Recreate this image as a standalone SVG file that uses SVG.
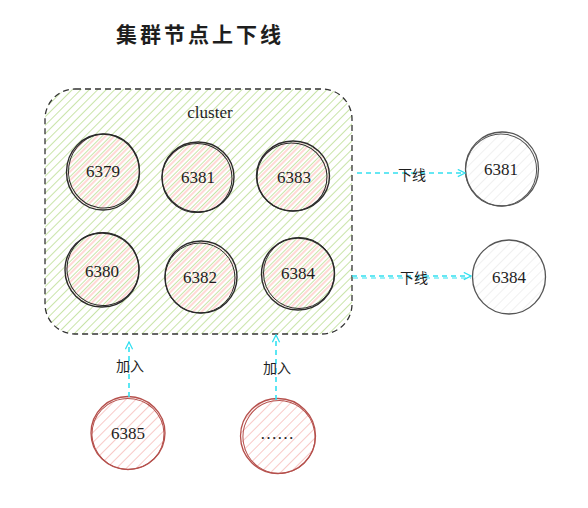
<svg xmlns="http://www.w3.org/2000/svg" width="588" height="508" viewBox="0 0 588 508">
<defs>
<pattern id="hG" width="6" height="6" patternUnits="userSpaceOnUse" patternTransform="rotate(45)">
<rect width="6" height="6" fill="none"/><line x1="0" y1="0" x2="0" y2="6" stroke="#bfe09a" stroke-width="1.7"/>
</pattern>
<pattern id="hP" width="6" height="6" patternUnits="userSpaceOnUse" patternTransform="rotate(45)">
<line x1="3" y1="0" x2="3" y2="6" stroke="#ffcfcc" stroke-width="1.6"/>
</pattern>
<pattern id="hR" width="7" height="7" patternUnits="userSpaceOnUse" patternTransform="rotate(45)">
<line x1="0" y1="0" x2="0" y2="7" stroke="#f6b8b6" stroke-width="1.5"/>
</pattern>
<pattern id="hY" width="7" height="7" patternUnits="userSpaceOnUse" patternTransform="rotate(45)">
<line x1="0" y1="0" x2="0" y2="7" stroke="#e6e6e6" stroke-width="1.2"/>
</pattern>
<marker id="ar" viewBox="0 0 10 10" refX="9" refY="5" markerWidth="9" markerHeight="9" markerUnits="userSpaceOnUse" orient="auto">
<path d="M1,1 L9,5 L1,9" fill="none" stroke="#33e0f0" stroke-width="1.4"/>
</marker>
<style>
text{font-family:"Liberation Serif","Noto Sans CJK SC",serif;fill:#1e1e1e;text-anchor:middle;dominant-baseline:central}
.num{font-size:17px}
.cn{font-size:14px;font-family:"Noto Sans CJK SC",sans-serif}
.nd{fill:url(#hP);stroke:#2b2b2b;stroke-width:1.4}
.nd2{fill:none;stroke:#2b2b2b;stroke-width:1}
.gy{fill:url(#hY);stroke:#555;stroke-width:1.3}
.gy2{fill:none;stroke:#555;stroke-width:1}
.rd{fill:url(#hR);stroke:#b5504c;stroke-width:1.3}
.rd2{fill:none;stroke:#b5504c;stroke-width:1}
.cx{stroke:#33e0f0;stroke-width:1.6;stroke-dasharray:5 4;fill:none;marker-end:url(#ar)}
</style>
</defs>
<rect width="588" height="508" fill="#fff"/>
<text x="200" y="33" style="font-family:'Noto Sans CJK SC',serif;font-size:21px;font-weight:bold;letter-spacing:3px">集群节点上下线</text>
<g id="cluster">
<rect x="45" y="89" width="307" height="245" rx="30" fill="url(#hG)" stroke="#333" stroke-width="1.3" stroke-dasharray="6 4"/>
<text x="210" y="112" class="num">cluster</text>
</g>
<g id="n6379"><ellipse cx="103" cy="172" rx="36.5" ry="38" class="nd"/><ellipse cx="104" cy="171" rx="35.5" ry="37" transform="rotate(8 104 171)" class="nd2"/><text x="103" y="171" class="num">6379</text></g>
<g id="n6381"><ellipse cx="198" cy="177" rx="36" ry="35" class="nd"/><ellipse cx="197" cy="178" rx="35" ry="34.5" transform="rotate(-10 197 178)" class="nd2"/><text x="198" y="177" class="num">6381</text></g>
<g id="n6383"><ellipse cx="293" cy="176" rx="36.5" ry="35" class="nd"/><ellipse cx="292" cy="177" rx="35" ry="34" transform="rotate(10 292 177)" class="nd2"/><text x="294" y="177" class="num">6383</text></g>
<g id="n6380"><ellipse cx="102" cy="270" rx="37" ry="37" class="nd"/><ellipse cx="103" cy="269" rx="36" ry="36.5" transform="rotate(-8 103 269)" class="nd2"/><text x="102" y="271" class="num">6380</text></g>
<g id="n6382"><ellipse cx="201" cy="277" rx="36" ry="36" class="nd"/><ellipse cx="200" cy="278" rx="35" ry="35" class="nd2"/><text x="200" y="277" class="num">6382</text></g>
<g id="n6384"><ellipse cx="298" cy="274" rx="36.5" ry="36" class="nd"/><ellipse cx="299" cy="273" rx="35.5" ry="35.5" class="nd2"/><text x="298" y="273" class="num">6384</text></g>
<g id="o6381"><ellipse cx="502" cy="169" rx="36.5" ry="37" class="gy"/><ellipse cx="501" cy="170" rx="35.5" ry="36" transform="rotate(10 501 170)" class="gy2"/><text x="501" y="169" class="num">6381</text></g>
<g id="o6384"><ellipse cx="509" cy="277" rx="36.5" ry="37" class="gy"/><text x="509" y="277" class="num">6384</text></g>
<g id="n6385"><ellipse cx="128" cy="433" rx="37" ry="36.5" class="rd"/><ellipse cx="128" cy="434" rx="36" ry="35.5" transform="rotate(10 128 434)" class="rd2"/><text x="128" y="433" class="num">6385</text></g>
<g id="nmore"><ellipse cx="278" cy="436" rx="37.5" ry="37.5" class="rd"/><ellipse cx="279" cy="437" rx="36" ry="36.5" transform="rotate(-10 279 437)" class="rd2"/><text x="277" y="433" class="num">……</text></g>
<g id="connectors">
<line x1="357" y1="173" x2="465" y2="173" class="cx"/>
<line x1="352" y1="276" x2="471" y2="276" class="cx"/>
<line x1="353" y1="278" x2="471" y2="278" class="cx" style="marker-end:none;stroke-width:1"/>
<line x1="129" y1="397" x2="129" y2="342" class="cx"/>
<line x1="276" y1="400" x2="276" y2="335" class="cx"/>
<text x="412" y="174" class="cn">下线</text>
<text x="414" y="277" class="cn">下线</text>
<text x="130" y="365" class="cn">加入</text>
<text x="277" y="367" class="cn">加入</text>
</g>
</svg>
